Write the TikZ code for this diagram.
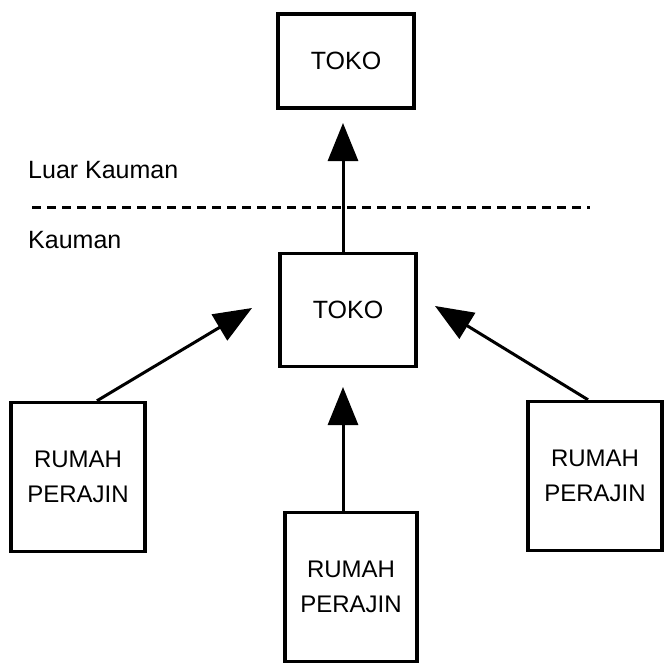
\documentclass[tikz,border=0pt]{standalone}
\usepackage{fontspec}
\setmainfont{Liberation Sans}
\usetikzlibrary{arrows.meta}
\begin{document}
\begin{tikzpicture}[x=1pt,y=-1pt,
  box/.style={draw, line width=3.5pt, inner sep=0pt, align=center,
    font=\fontsize{24}{35}\selectfont},
  tokobox/.style={box, minimum width=136pt, font=\fontsize{25}{30}\selectfont},
  rumahbox/.style={box, minimum width=134pt, minimum height=149pt},
  lbl/.style={anchor=west, inner sep=0pt, font=\fontsize{25}{30}\selectfont},
  arr/.style={line width=3pt, -{Triangle[length=38pt,width=30pt]}}]
\useasboundingbox (0,0) rectangle (664,664);
\node[tokobox, minimum height=94pt] (t1) at (346,61) {TOKO};
\node[tokobox, minimum height=113pt] (t2) at (348,310) {TOKO};
\node[rumahbox] (rl) at (78,477) {RUMAH\\PERAJIN};
\node[rumahbox] (rr) at (595,476) {RUMAH\\PERAJIN};
\node[rumahbox, minimum width=132pt] (rb) at (351,587) {RUMAH\\PERAJIN};
\node[lbl] (luar) at (28,170) {Luar Kauman};
\node[lbl] (kau) at (28,240) {Kauman};
\coordinate (dl) at (32,207);
\coordinate (dr) at (590,207);
\draw[line width=3pt, dash pattern=on 9pt off 6pt] (dl) -- (dr);
\coordinate (tipT) at (343,123);
\coordinate (tipB) at (343,387);
\coordinate (tipL) at (252,308);
\coordinate (tipR) at (435,306);
\draw[arr] (t2.north -| tipT) -- (tipT);
\draw[arr] (rb.north -| tipB) -- (tipB);
\draw[arr] ([xshift=19pt]rl.north) -- (tipL);
\draw[arr] ([xshift=-7pt]rr.north) -- (tipR);
\end{tikzpicture}
\end{document}
